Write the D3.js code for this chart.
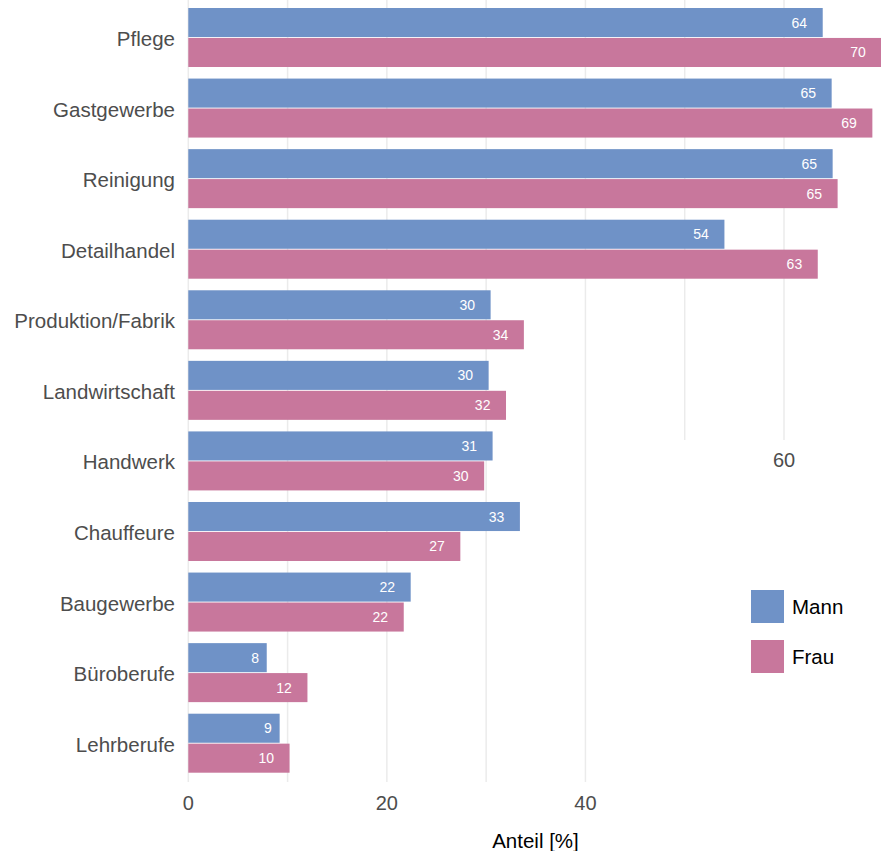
<!DOCTYPE html>
<html>
<head>
<meta charset="utf-8">
<script src="https://cdn.jsdelivr.net/npm/d3@7"></script>
<style>
  body { margin: 0; background: #fff; }
  svg { display: block; font-family: "Liberation Sans", Arial, sans-serif; }
</style>
</head>
<body>
<script>
const panel_width = 881;
const panel_height = 851;

// values
const categories = ["Pflege", "Gastgewerbe", "Reinigung", "Detailhandel", "Produktion/Fabrik",
    "Landwirtschaft", "Handwerk", "Chauffeure", "Baugewerbe", "Büroberufe", "Lehrberufe"];
const mann = [63.9, 64.8, 64.9, 54.0, 30.45, 30.25, 30.65, 33.4, 22.4, 7.9, 9.2];
const frau = [69.8, 68.9, 65.4, 63.4, 33.8, 32.0, 29.8, 27.4, 21.7, 12.0, 10.2];
const groups = ["Mann", "Frau"];
const colors = ["#6f92c7", "#c8779c"];
const ticks = [0, 20, 40, 60];
const gridValues = [0, 10, 20, 30, 40, 50, 60];

const svg = d3.select("body")
    .append("svg")
    .attr("width", panel_width)
    .attr("height", panel_height);

const x = d3.scaleLinear()
    .domain([0, 60])
    .range([188.3, 784]);

const y = d3.scaleBand()
    .domain(categories)
    .range([8, 772.7])
    .paddingInner(0.164)
    .paddingOuter(0);

const ySub = d3.scaleBand()
    .domain(groups)
    .range([0, y.bandwidth()])
    .paddingInner(0.03);

const color = d3.scaleOrdinal().domain(groups).range(colors);

// grid (the right part stops above the legend area)
svg.append("g")
    .selectAll("line")
    .data(gridValues)
    .join("line")
    .attr("x1", d => x(d))
    .attr("x2", d => x(d))
    .attr("y1", 0)
    .attr("y2", d => d >= 50 ? 440 : 782)
    .attr("stroke", "#ebebeb")
    .attr("stroke-width", 1.5);

const rows = categories.map((c, i) => ({ cat: c, vals: [mann[i], frau[i]] }));

const row = svg.append("g")
    .selectAll("g")
    .data(rows)
    .join("g")
    .attr("transform", d => `translate(0,${y(d.cat)})`);

row.selectAll("rect")
    .data(d => d.vals.map((v, j) => ({ g: groups[j], v })))
    .join("rect")
    .attr("x", x(0))
    .attr("y", d => ySub(d.g))
    .attr("width", d => x(d.v) - x(0))
    .attr("height", ySub.bandwidth())
    .attr("fill", d => color(d.g));

row.selectAll("text.val")
    .data(d => d.vals.map((v, j) => ({ g: groups[j], v })))
    .join("text")
    .attr("class", "val")
    .attr("y", d => ySub(d.g) + ySub.bandwidth() / 2)
    .attr("dominant-baseline", "central")
    .attr("text-anchor", "end")
    .attr("fill", "white")
    .attr("font-size", "14px")
    .text(d => Math.round(d.v))
    .each(function(d) {
        const w = this.getComputedTextLength();
        d3.select(this).attr("x", x(d.v) - w);
    });

// category labels
svg.append("g")
    .selectAll("text")
    .data(categories)
    .join("text")
    .attr("x", 175)
    .attr("y", d => y(d) + y.bandwidth() / 2 + 1)
    .attr("dominant-baseline", "central")
    .attr("text-anchor", "end")
    .attr("fill", "#4d4d4d")
    .attr("font-size", "20.5px")
    .text(d => d);

// x tick labels
svg.append("g")
    .selectAll("text")
    .data(ticks)
    .join("text")
    .attr("x", d => x(d))
    .attr("y", d => d >= 60 ? 460 : 803)
    .attr("dominant-baseline", "central")
    .attr("text-anchor", "middle")
    .attr("fill", "#4d4d4d")
    .attr("font-size", "20px")
    .text(d => d);

svg.append("text")
    .attr("x", 535.5)
    .attr("y", 840)
    .attr("dominant-baseline", "central")
    .attr("text-anchor", "middle")
    .attr("fill", "black")
    .attr("font-size", "20.5px")
    .text("Anteil [%]");

// legend
const legend = svg.append("g")
    .selectAll("g")
    .data(groups)
    .join("g")
    .attr("transform", (d, i) => `translate(751,${590 + i * 50})`);

legend.append("rect")
    .attr("width", 33)
    .attr("height", 33)
    .attr("fill", d => color(d));

legend.append("text")
    .attr("x", 41)
    .attr("y", 16.5)
    .attr("dominant-baseline", "central")
    .attr("fill", "black")
    .attr("font-size", "20.5px")
    .text(d => d);
</script>
</body>
</html>
